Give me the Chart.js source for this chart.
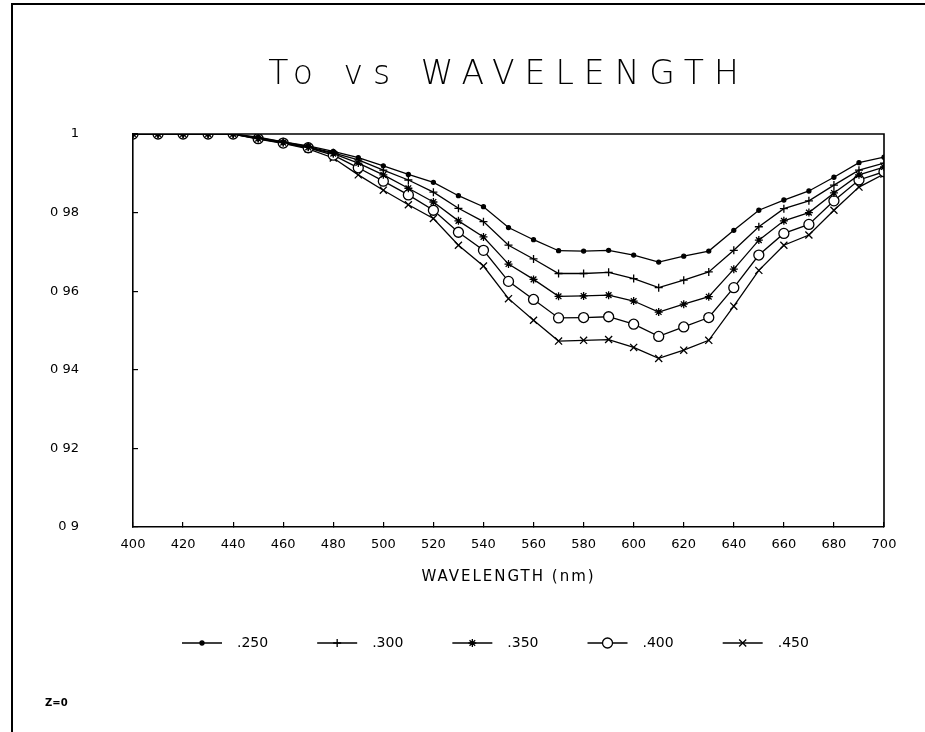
<!DOCTYPE html>
<html>
<head>
<meta charset="utf-8">
<script src="https://cdn.jsdelivr.net/npm/chart.js@4/dist/chart.umd.min.js"></script>
<style>
  html, body { margin: 0; padding: 0; background: #fff; }
  #wrap { position: relative; width: 925px; height: 732px; }
  #frame { position: absolute; left: 11px; top: 3px; right: 0; bottom: 0; border-left: 2px solid #000; border-top: 2px solid #000; pointer-events: none; }
  canvas { position: absolute; left: 0; top: 0; }
</style>
</head>
<body>
<div id="wrap">
  <canvas id="c" width="925" height="732"></canvas>
  <div id="frame"></div>
</div>
<script>
// ---- data ----
const wavelengths = [400,410,420,430,440,450,460,470,480,490,500,510,520,530,540,550,560,570,580,590,600,610,620,630,640,650,660,670,680,690,700];
const seriesNames = [".250", ".300", ".350", ".400", ".450"];
const t250 = [1,1,1,1,1, 0.9992,0.998,0.997,0.9956,0.994, 0.9919,0.9897,0.9877,0.9843,0.9815, 0.9762,0.9731,0.9703,0.9702,0.9704, 0.9692,0.9674,0.9689,0.9702,0.9755, 0.9806,0.9832,0.9855,0.989,0.9927, 0.9941];
const t300 = [1,1,1,1,1, 0.999,0.998,0.9968,0.9952,0.9934, 0.9908,0.9883,0.9852,0.9811,0.9777, 0.9717,0.9682,0.9645,0.9645,0.9648, 0.9632,0.9609,0.9628,0.9649,0.9704, 0.9764,0.981,0.983,0.987,0.9908, 0.9926];
const t350 = [1,1,1,1,1, 0.9988,0.9978,0.9966,0.995,0.9926, 0.9896,0.9862,0.9827,0.9779,0.9738, 0.9669,0.963,0.9587,0.9588,0.959, 0.9575,0.9547,0.9567,0.9586,0.9656, 0.973,0.9779,0.98,0.985,0.9896, 0.9916];
const t400 = [1,1,1,1,1, 0.9988,0.9977,0.9965,0.9946,0.9914, 0.988,0.9845,0.9806,0.975,0.9704, 0.9625,0.9579,0.9532,0.9533,0.9535, 0.9516,0.9485,0.9509,0.9533,0.9609, 0.9692,0.9747,0.977,0.983,0.9883, 0.9904];
const t450 = [1,1,1,1,1, 0.9987,0.9976,0.9962,0.9939,0.9896, 0.9857,0.982,0.9785,0.9717,0.9664, 0.9581,0.9526,0.9473,0.9475,0.9477, 0.9457,0.9429,0.945,0.9475,0.9562, 0.9653,0.9717,0.9743,0.9806,0.9865, 0.9898];
const yTickLabels = ["0 9", "0 92", "0 94", "0 96", "0 98", "1"];
const xTickValues = [400,420,440,460,480,500,520,540,560,580,600,620,640,660,680,700];

// ---- styles ----
const seriesValues = [t250, t300, t350, t400, t450];
const markerStyles = [
  { pointStyle: 'circle', radius: 2, bg: '#000' },
  { pointStyle: 'cross', radius: 4, bg: '#000' },
  { pointStyle: 'star', radius: 4, bg: '#000' },
  { pointStyle: 'circle', radius: 5, bg: '#fff' },
  { pointStyle: 'crossRot', radius: 5, bg: '#000' }
];

const datasets = seriesNames.map((name, i) => ({
  label: name,
  data: wavelengths.map((w, j) => ({ x: w, y: seriesValues[i][j] })),
  borderColor: '#000',
  borderWidth: 1.3,
  tension: 0,
  fill: false,
  pointStyle: markerStyles[i].pointStyle,
  pointRadius: markerStyles[i].radius,
  pointBorderColor: '#000',
  pointBackgroundColor: markerStyles[i].bg,
  pointBorderWidth: 1.3
}));

const FONT = "'DejaVu Sans', 'Liberation Sans', sans-serif";
const LEGEND_FONT = 14;

const decorPlugin = {
  id: 'decor',
  afterInit(chart) {
    const tb = chart.titleBlock;
    if (tb && !tb._ls) {
      const orig = tb.draw;
      tb.draw = function () {
        const c = this.ctx; c.save(); c.letterSpacing = '10px';
        orig.apply(this, arguments); c.restore();
      };
      tb._ls = true;
    }
  },
  beforeDraw(chart) {
    const xs = chart.scales.x;
    if (xs && !xs._ls) {
      const orig = xs.drawTitle;
      xs.drawTitle = function () {
        const c = this.ctx; c.save(); c.letterSpacing = '2px';
        orig.apply(this, arguments); c.restore();
      };
      xs._ls = true;
    }
  },
  afterDraw(chart) {
    const ctx = chart.ctx;
    const a = chart.chartArea;
    ctx.save();
    ctx.strokeStyle = '#000';
    ctx.lineWidth = 1.6;
    ctx.beginPath();
    ctx.moveTo(a.left, a.top); ctx.lineTo(a.right, a.top); ctx.lineTo(a.right, a.bottom);
    ctx.stroke();
    // legend line samples with markers, placed relative to each legend text
    const boxes = chart.legend.legendHitBoxes || [];
    const bw = chart.legend.options.labels.boxWidth;
    boxes.forEach((b, i) => {
      const y = b.top + b.height / 2;
      const textX = b.left + bw + LEGEND_FONT / 2;
      const x0 = textX - 55, x1 = textX - 15;
      ctx.strokeStyle = '#000';
      ctx.lineWidth = 1.3;
      ctx.beginPath(); ctx.moveTo(x0, y); ctx.lineTo(x1, y); ctx.stroke();
      ctx.fillStyle = markerStyles[i].bg;
      if (Chart.helpers && Chart.helpers.drawPoint) {
        Chart.helpers.drawPoint(ctx, { pointStyle: markerStyles[i].pointStyle, radius: markerStyles[i].radius, rotation: 0, borderWidth: 1.3 }, (x0 + x1) / 2, y);
      }
    });
    ctx.fillStyle = '#000';
    ctx.font = "bold 10px " + FONT;
    ctx.textBaseline = 'middle';
    ctx.textAlign = 'left';
    ctx.fillText('Z=0', 45, 703);
    ctx.restore();
  }
};

new Chart(document.getElementById('c'), {
  type: 'line',
  data: { datasets },
  plugins: [decorPlugin],
  options: {
    responsive: false,
    animation: false,
    devicePixelRatio: 1,
    layout: { padding: { left: 0, right: 41, top: 0, bottom: 72 } },
    plugins: {
      tooltip: { enabled: false },
      title: {
        display: true,
        text: 'To vs WAVELENGTH',
        fullSize: false,
        color: '#000',
        font: { family: FONT, size: 33, weight: '200', lineHeight: 1.2 },
        padding: { top: 56, bottom: 38.4 }
      },
      legend: {
        display: true,
        position: 'bottom',
        align: 'start',
        fullSize: false,
        labels: {
          color: '#000',
          font: { family: FONT, size: LEGEND_FONT },
          boxWidth: 40,
          boxHeight: 14,
          padding: 57,
          generateLabels(chart) {
            return chart.data.datasets.map((ds, i) => ({
              text: ds.label,
              fillStyle: 'rgba(0,0,0,0)',
              strokeStyle: 'rgba(0,0,0,0)',
              lineWidth: 0,
              fontColor: '#000',
              hidden: false,
              datasetIndex: i
            }));
          }
        }
      }
    },
    scales: {
      x: {
        type: 'linear',
        min: 400,
        max: 700,
        afterBuildTicks(scale) { scale.ticks = xTickValues.map(v => ({ value: v })); },
        afterFit(scale) { scale.height = 52; },
        ticks: { color: '#000', font: { family: FONT, size: 13 }, padding: 15.2, maxRotation: 0, autoSkip: false },
        grid: { display: true, drawOnChartArea: false, drawTicks: true, tickLength: -5, color: '#000', lineWidth: 1.2 },
        border: { display: true, color: '#000', width: 1.6 },
        title: { display: true, text: 'WAVELENGTH (nm)', color: '#000', font: { family: FONT, size: 15, lineHeight: 1.2 }, padding: { top: 0, bottom: -7 } }
      },
      y: {
        type: 'linear',
        min: 0.9,
        max: 1.0,
        afterBuildTicks(scale) { scale.ticks = yTickLabels.map((t, i) => ({ value: 0.9 + i * 0.02 })); },
        afterFit(scale) { scale.width = 133; },
        ticks: {
          color: '#000', font: { family: FONT, size: 13 }, padding: 59,
          callback(value, index) { return yTickLabels[index]; }
        },
        grid: { display: true, drawOnChartArea: false, drawTicks: true, tickLength: -5, color: '#000', lineWidth: 1.2 },
        border: { display: true, color: '#000', width: 1.6 }
      }
    }
  }
});
</script>
</body>
</html>
